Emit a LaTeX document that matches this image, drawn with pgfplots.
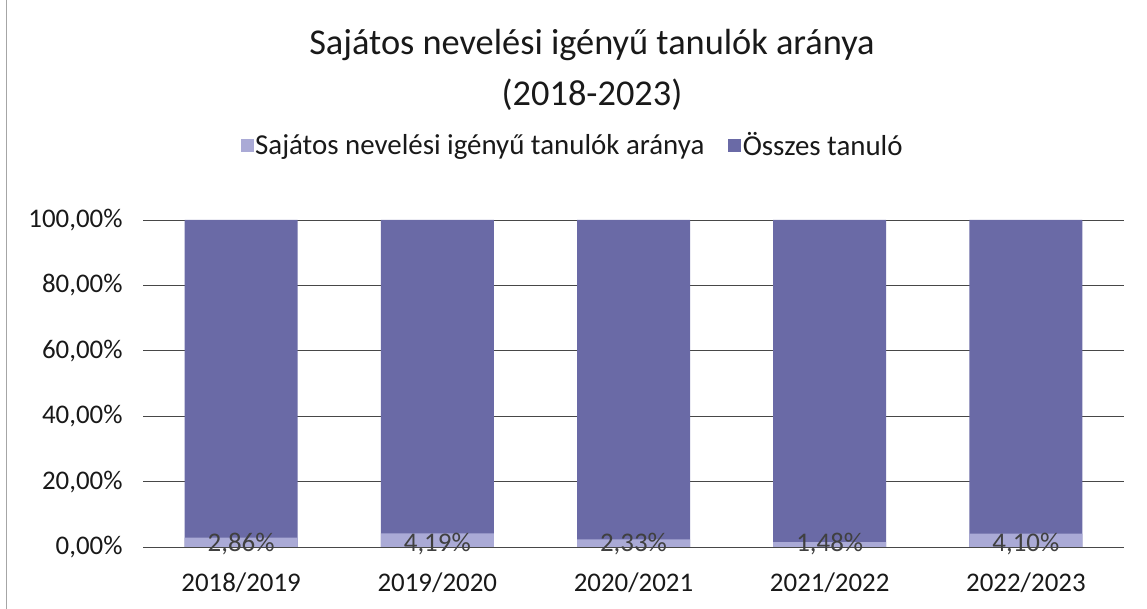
\documentclass[border=0pt]{standalone}
\usepackage{pgfplots}
\pgfplotsset{compat=1.18}
\usepackage{fontspec}
\setmainfont{Carlito}
\definecolor{darkbar}{RGB}{106,106,166}
\definecolor{lightbar}{RGB}{170,170,214}
\definecolor{txt}{RGB}{64,64,64}
\begin{document}
\begin{tikzpicture}[x=1bp,y=1bp]
\path[use as bounding box] (0,0) rectangle (1147,609);
\draw[black!35, line width=1bp] (6,0) -- (6,609);
\node[font=\fontsize{36.5}{42}\selectfont, text=black!90] at (592,564) {Sajátos nevelési igényű tanulók aránya};
\node[font=\fontsize{36.5}{42}\selectfont, text=black!90] at (592,514) {(2018-2023)};
\begin{axis}[
  at={(143bp,62bp)}, anchor=south west,
  scale only axis, width=981bp, height=327bp,
  xmin=-0.5, xmax=4.5, ymin=0, ymax=100,
  axis line style={draw=none},
  tick style={draw=none},
  ymajorgrids,
  grid style={black!72, line width=0.9bp},
  ytick={0,20,40,60,80,100},
  yticklabels={{0,00\%},{20,00\%},{40,00\%},{60,00\%},{80,00\%},{100,00\%}},
  xtick={0,1,2,3,4},
  xticklabels={2018/2019,2019/2020,2020/2021,2021/2022,2022/2023},
  ticklabel style={font=\fontsize{27}{31}\selectfont, text=black!90},
  yticklabel style={xshift=-17bp},
  xticklabel style={yshift=-22bp},
  legend style={at={(0.438,1.229)}, anchor=center, draw=none, fill=none,
    legend columns=2, font=\fontsize{29}{33}\selectfont, text=black!90,
    /tikz/every even column/.append style={column sep=22bp},
    legend cell align=left, inner sep=0pt},
]
\addlegendimage{legend image code/.code={\fill[lightbar] (0bp,-6bp) rectangle (12bp,6bp);}}
\addlegendentry{Sajátos nevelési igényű tanulók aránya}
\addlegendimage{legend image code/.code={\fill[darkbar] (0bp,-6bp) rectangle (12bp,6bp);}}
\addlegendentry{Összes tanuló}
\addplot[ybar, bar width=113bp, bar shift=0pt, fill=darkbar, draw=none, forget plot]
  coordinates {(0,100) (1,100) (2,100) (3,100) (4,100)};
\addplot[ybar, bar width=113bp, bar shift=0pt, fill=lightbar, draw=none, forget plot]
  coordinates {(0,2.86) (1,4.19) (2,2.33) (3,1.48) (4,4.10)};
\addplot[only marks, mark=*, mark size=0pt, forget plot,
  nodes near coords, point meta=explicit symbolic,
  nodes near coords style={anchor=center, font=\fontsize{27}{31}\selectfont, text=txt}]
  coordinates {(0,1)[2,86\%] (1,1)[4,19\%] (2,1)[2,33\%] (3,1)[1,48\%] (4,1)[4,10\%]};
\end{axis}
\end{tikzpicture}
\end{document}
